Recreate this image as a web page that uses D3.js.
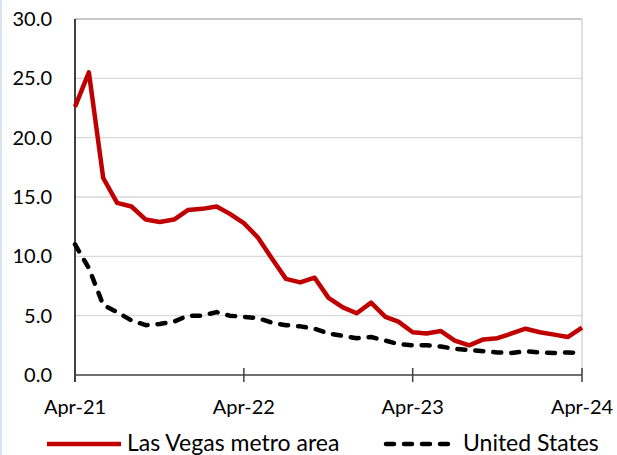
<!DOCTYPE html>
<html>
<head>
<meta charset="utf-8">
<script src="https://cdn.jsdelivr.net/npm/d3@7"></script>
<style>
  body { margin: 0; background: #fff; }
  svg { display: block; font-family: Lato, "Open Sans", sans-serif; }
</style>
</head>
<body>
<div id="chart"></div>
<script>
// Mesi da Apr-21 a Apr-24
const months = d3.range(37).map(i => new Date(2021, 3 + i, 1));
const tickLabels = ["Apr-21", "Apr-22", "Apr-23", "Apr-24"];
const yTicks = [0, 5, 10, 15, 20, 25, 30];

const lasVegas = [22.6, 25.5, 16.6, 14.5, 14.2, 13.1, 12.9, 13.1, 13.9, 14.0, 14.2, 13.6, 12.8,
  11.6, 9.8, 8.1, 7.8, 8.2, 6.5, 5.7, 5.2, 6.1, 4.9, 4.5, 3.6,
  3.5, 3.7, 2.9, 2.5, 3.0, 3.1, 3.5, 3.9, 3.6, 3.4, 3.2, 4.0];
const unitedStates = [11.0, 9.0, 5.9, 5.3, 4.6, 4.2, 4.3, 4.5, 5.0, 5.0, 5.3, 5.0, 4.9,
  4.8, 4.4, 4.2, 4.1, 3.9, 3.5, 3.3, 3.1, 3.2, 2.9, 2.6, 2.5,
  2.5, 2.4, 2.2, 2.1, 2.0, 1.9, 1.85, 2.0, 1.9, 1.85, 1.9, 1.85];

const width = 617, height = 455;
const margin = { top: 19, right: 35, bottom: 80, left: 75 };
const innerWidth = width - margin.left - margin.right;
const innerHeight = height - margin.top - margin.bottom;

const svg = d3.select("#chart").append("svg").attr("width", width).attr("height", height);

// bordino azzurro a sinistra
svg.append("line").attr("x1", 1).attr("x2", 1).attr("y1", 0).attr("y2", height)
  .attr("stroke", "#d6e4f5").attr("stroke-width", 2);

const g = svg.append("g").attr("transform", `translate(${margin.left},${margin.top})`);

const x = d3.scaleTime().domain([months[0], months[36]]).range([0, innerWidth]);
const y = d3.scaleLinear().domain([0, 30]).range([innerHeight, 0]);

// Griglia
g.selectAll(".grid").data(yTicks.slice(1)).enter().append("line")
  .attr("x1", 0).attr("x2", innerWidth)
  .attr("y1", d => y(d)).attr("y2", d => y(d))
  .attr("stroke", d => d === 30 ? "#c8c8c8" : "#d9d9d9").attr("stroke-width", d => d === 30 ? 2 : 1.3);
g.append("line").attr("x1", innerWidth).attr("x2", innerWidth).attr("y1", 0).attr("y2", innerHeight)
  .attr("stroke", "#d0d0d0").attr("stroke-width", 1.3);

// Etichette asse y
g.selectAll(".ylab").data(yTicks).enter().append("text")
  .attr("x", -23).attr("y", d => y(d) + 7)
  .attr("text-anchor", "end").style("font-size", "20px").attr("fill", "#000")
  .text(d => d.toFixed(1));

// Assi
g.append("line").attr("x1", 0).attr("x2", 0).attr("y1", 0).attr("y2", innerHeight + 7)
  .attr("stroke", "#000").attr("stroke-width", 1.5);
g.append("line").attr("x1", 0).attr("x2", innerWidth).attr("y1", innerHeight).attr("y2", innerHeight)
  .attr("stroke", "#404040").attr("stroke-width", 1.5);

const yearTicks = [0, 12, 24, 36].map(i => months[i]);
g.selectAll(".xtick").data(yearTicks).enter().append("line")
  .attr("x1", d => x(d)).attr("x2", d => x(d))
  .attr("y1", innerHeight - 7).attr("y2", innerHeight + 7)
  .attr("stroke", "#404040").attr("stroke-width", 1.5);
g.selectAll(".xlab").data(yearTicks).enter().append("text")
  .attr("x", d => x(d)).attr("y", innerHeight + 39)
  .attr("text-anchor", "middle").style("font-size", "20px").attr("fill", "#000")
  .text((d, i) => tickLabels[i]);

// Linee
const line = d3.line().x((d, i) => x(months[i])).y(d => y(d));

g.append("path").datum(unitedStates).attr("d", line)
  .attr("fill", "none").attr("stroke", "#000").attr("stroke-width", 4.5)
  .attr("stroke-linecap", "round").attr("stroke-linejoin", "round")
  .attr("stroke-dasharray", "8,10");

g.append("path").datum(lasVegas).attr("d", line)
  .attr("fill", "none").attr("stroke", "#c00000").attr("stroke-width", 4.5)
  .attr("stroke-linejoin", "round");

// Legenda
const legend = svg.append("g").attr("transform", "translate(0,444)");
legend.append("line").attr("x1", 47).attr("x2", 121).attr("y1", 0).attr("y2", 0)
  .attr("stroke", "#c00000").attr("stroke-width", 4.5);
legend.append("text").attr("x", 127).attr("y", 7).style("font-size", "23px").text("Las Vegas metro area");
legend.append("line").attr("x1", 386).attr("x2", 456).attr("y1", 0).attr("y2", 0)
  .attr("stroke", "#000").attr("stroke-width", 4.5)
  .attr("stroke-linecap", "round").attr("stroke-dasharray", "8,10");
legend.append("text").attr("x", 463).attr("y", 7).style("font-size", "23px").text("United States");
</script>
</body>
</html>
